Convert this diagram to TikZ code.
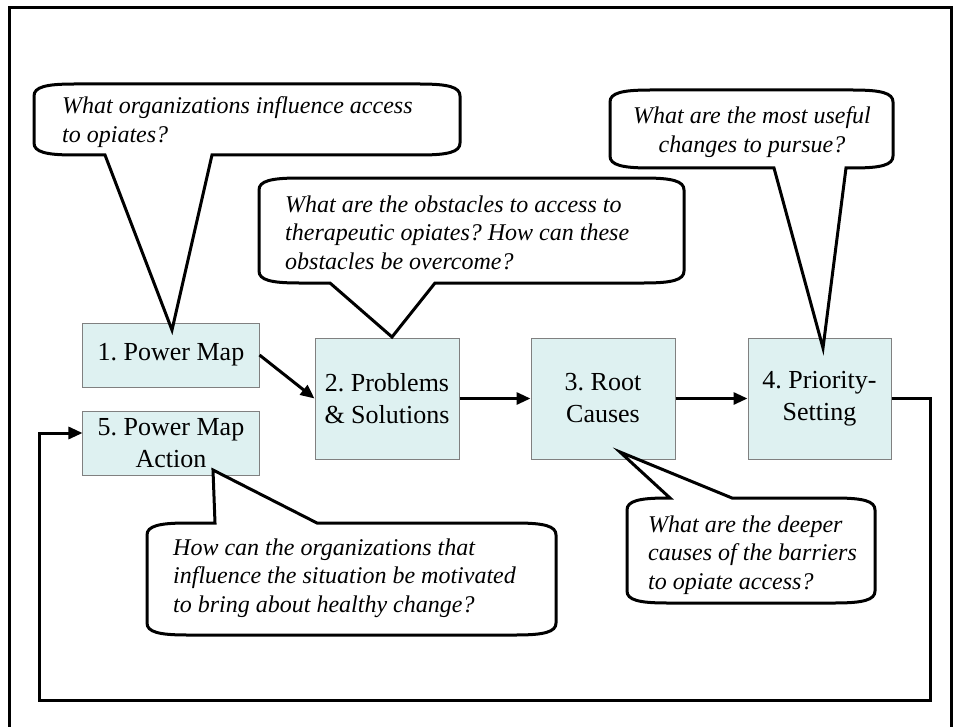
\documentclass[tikz,border=0pt]{standalone}
\usepackage{fontspec}
\setmainfont{Liberation Serif}
\usetikzlibrary{arrows.meta,calc}
\definecolor{boxfill}{RGB}{222,241,241}
\definecolor{boxline}{RGB}{128,128,128}
\tikzset{
  stepbox/.style={draw=boxline,line width=1bp,fill=boxfill,inner sep=0pt,align=center,
    font=\frenchspacing\fontsize{26bp}{32bp}\selectfont},
  bub/.style={draw=black,line width=3bp,fill=white,line join=miter},
  bubtext/.style={inner sep=0pt,font=\frenchspacing\itshape\fontsize{24bp}{28.5bp}\selectfont},
  conn/.style={line width=3bp,-{Triangle[length=14bp,width=12bp]}},
  frameline/.style={line width=3bp}
}
\newcommand\calloutdown[7]{%
\draw[bub] ({#1},{#2+12}) -- ({#1},{#4-12}) .. controls ({#1},{#4-3}) and ({#1+12},{#4}) .. ({#1+40},{#4})
 -- ({#5},{#4}) -- (#7) -- ({#6},{#4}) -- ({#3-40},{#4}) .. controls ({#3-12},{#4}) and ({#3},{#4-3}) .. ({#3},{#4-12})
 -- ({#3},{#2+12}) .. controls ({#3},{#2+3}) and ({#3-12},{#2}) .. ({#3-40},{#2})
 -- ({#1+40},{#2}) .. controls ({#1+12},{#2}) and ({#1},{#2+3}) .. cycle;}
\newcommand\calloutup[7]{%
\draw[bub] ({#1},{#2+12}) -- ({#1},{#4-12}) .. controls ({#1},{#4-3}) and ({#1+12},{#4}) .. ({#1+40},{#4})
 -- ({#3-40},{#4}) .. controls ({#3-12},{#4}) and ({#3},{#4-3}) .. ({#3},{#4-12})
 -- ({#3},{#2+12}) .. controls ({#3},{#2+3}) and ({#3-12},{#2}) .. ({#3-40},{#2})
 -- ({#6},{#2}) -- (#7) -- ({#5},{#2})
 -- ({#1+40},{#2}) .. controls ({#1+12},{#2}) and ({#1},{#2+3}) .. cycle;}
\begin{document}
\begin{tikzpicture}[x=1bp,y=-1bp]
\useasboundingbox (0,0) rectangle (962,727);
\clip (0,0) rectangle (962,727);
\fill[white] (0,0) rectangle (962,727);
% outer frame
\draw[frameline] (9,8) rectangle (951,740);

% boxes
\node[stepbox,minimum width=176bp,minimum height=64bp] (b1) at (171,355) {1. Power Map};
\node[stepbox,minimum width=176bp,minimum height=64bp] (b5) at (171,443) {5. Power Map\\Action};
\node[stepbox,minimum width=144bp,minimum height=121bp] (b2) at (387,398.5) {2. Problems\\\& Solutions};
\node[stepbox,minimum width=144bp,minimum height=121bp] (b3) at (603,398.5) {3. Root\\Causes};
\node[stepbox,minimum width=143bp,minimum height=121bp] (b4) at (819.5,398.5) {4. Priority-\\Setting};

% connectors
\draw[conn] (b1.east) -- (b2.west);
\draw[conn] (b2.east) -- (b3.west);
\draw[conn] (b3.east) -- (b4.west);
\coordinate (lr) at (930,700);
\coordinate (ll) at (39,700);
\coordinate (b5in) at ($(b5.west)+(0,-10)$);
\draw[conn] (b4.east) -| (lr) -- (ll) |- (b5in);

% callouts
\calloutdown{34}{84}{460}{155}{105}{212}{172,330}
\calloutdown{259}{178}{684}{283}{330}{435}{392,337}
\calloutdown{610}{90}{893}{168}{774}{846}{823,348}
\calloutup{627}{498}{875}{603}{670}{732}{620,452}
\calloutup{147}{523}{556}{635}{215}{317}{213,470}

% callout texts
\node[bubtext,anchor=north west,align=left] (t1) at (62,96.5)
  {What organizations influence access\\to opiates?};
\node[bubtext,anchor=north west,align=left] (t2) at (285,195.5)
  {What are the obstacles to access to\\therapeutic opiates? How can these\\obstacles be overcome?};
\node[bubtext,anchor=north,align=center] (t4) at (752,106.5)
  {What are the most useful\\changes to pursue?};
\node[bubtext,anchor=north west,align=left] (t3) at (648,515.5)
  {What are the deeper\\causes of the barriers\\to opiate access?};
\node[bubtext,anchor=north west,align=left] (t5) at (173,538.5)
  {How can the organizations that\\influence the situation be motivated\\to bring about healthy change?};
\end{tikzpicture}
\end{document}
